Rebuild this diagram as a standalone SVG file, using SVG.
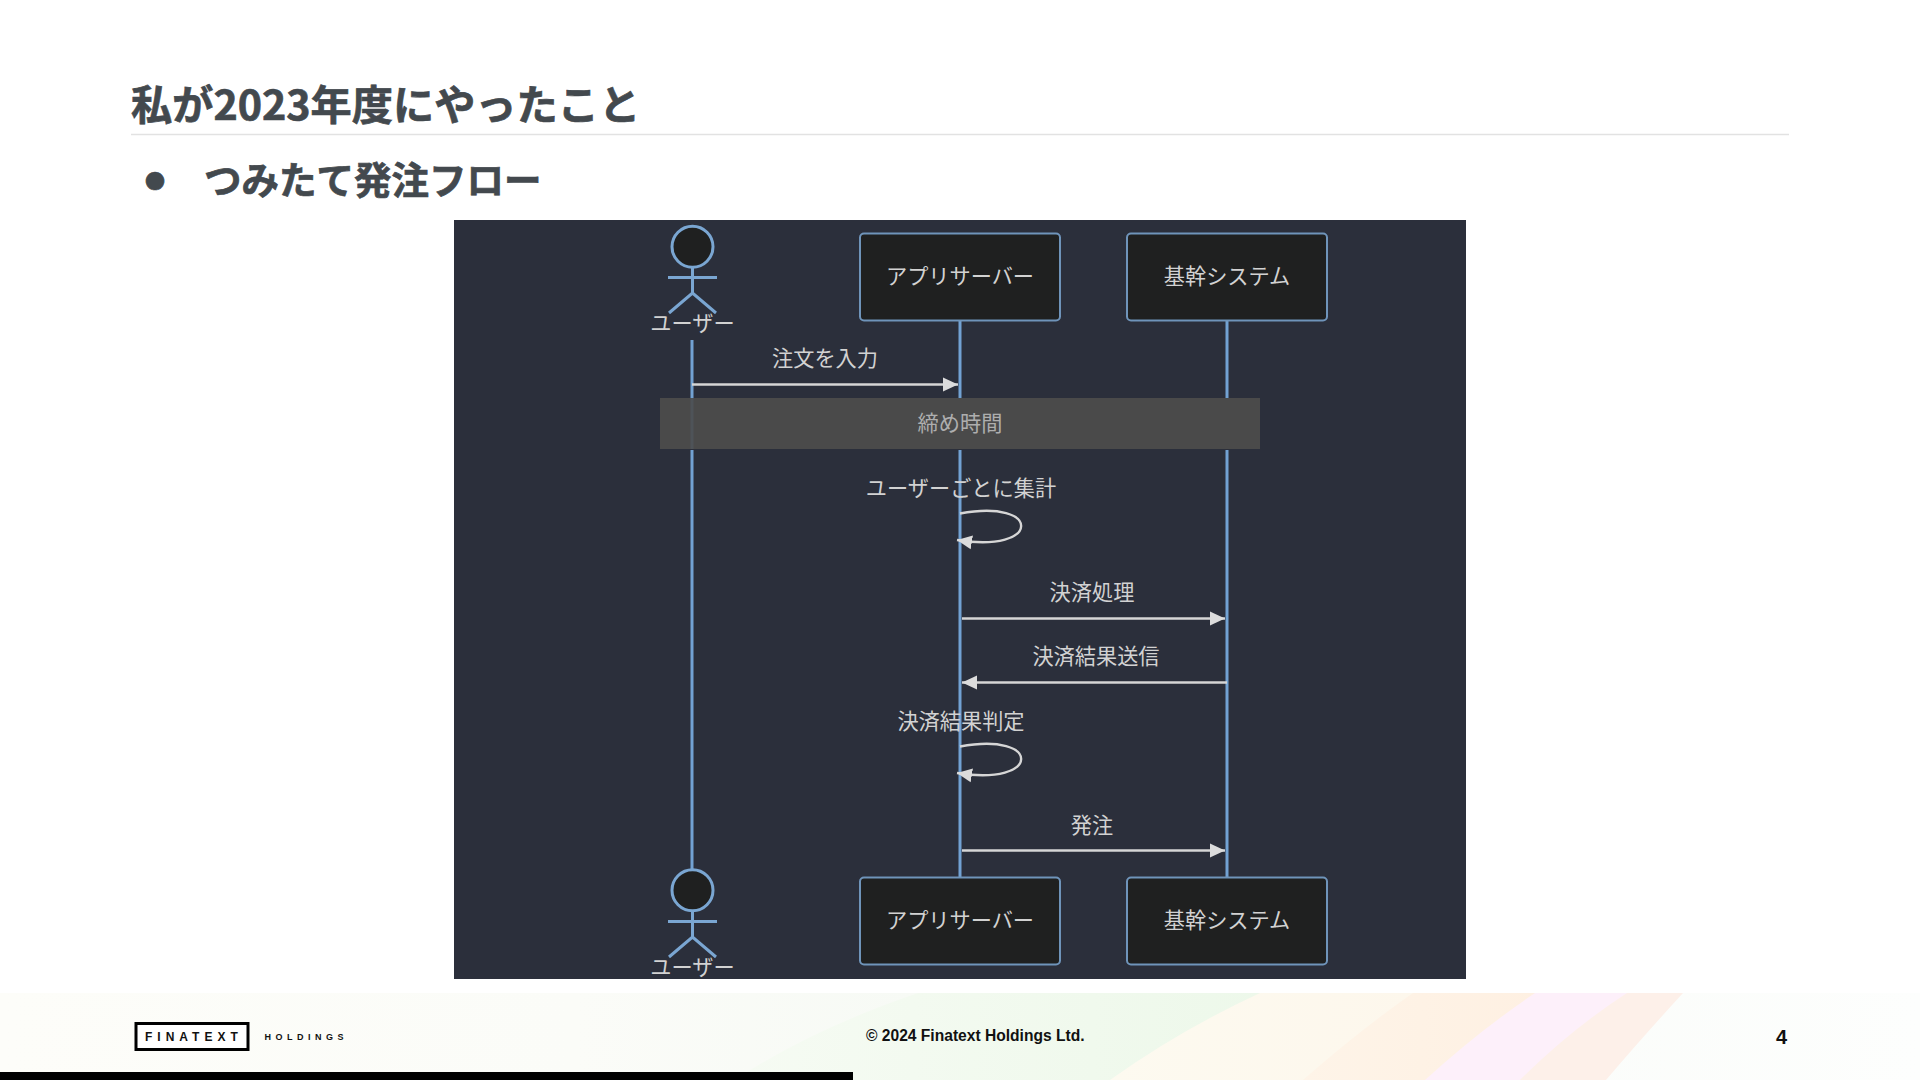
<svg xmlns="http://www.w3.org/2000/svg" width="1920" height="1080" viewBox="0 0 1920 1080">
<style>
text{font-family:"Noto Sans CJK JP","Noto Sans",sans-serif}
.h{font-weight:700;fill:#43494e;stroke:#43494e;stroke-width:.7}
.t{font-size:21.2px;fill:#d2d2d2;text-anchor:middle}
.box{fill:#1f2020;stroke:#6f94ba;stroke-width:2}
.life{stroke:#72a2d3;stroke-width:3;fill:none}
.act{stroke:#7aa6d2;stroke-width:3;fill:none}
.head{fill:#1f2020;stroke:#7aa6d2;stroke-width:3}
.msg{stroke:#d6d6d6;stroke-width:2.4;fill:none}
.foot{font-family:"Liberation Sans",Arial,sans-serif;font-weight:700;fill:#111}
</style>
<defs>
<marker id="arrow" markerUnits="userSpaceOnUse" viewBox="0 0 15 15" refX="15" refY="7.5" markerWidth="15" markerHeight="15" orient="auto"><path d="M0,0.5L15,7.5L0,14.5Z" fill="#dcdcdc"/></marker>
<linearGradient id="fbg" x1="0" x2="1" y1="0" y2="0"><stop offset="0" stop-color="#fdfdf9"/><stop offset=".3" stop-color="#fbfcf8"/><stop offset=".48" stop-color="#f7faf5"/><stop offset="1" stop-color="#fdfefd"/></linearGradient>
<linearGradient id="green" x1="0" x2="1" y1="0" y2="0"><stop offset="0" stop-color="#f6fbf3"/><stop offset="1" stop-color="#edf8ea"/></linearGradient>
<linearGradient id="cream" x1="0" x2="1" y1="0" y2="0"><stop offset="0" stop-color="#fdfaf0"/><stop offset="1" stop-color="#fdf7ec"/></linearGradient>
<linearGradient id="peach" x1="0" x2="1" y1="0" y2="0"><stop offset="0" stop-color="#fef4e8"/><stop offset="1" stop-color="#fef0e2"/></linearGradient>
</defs>
<rect width="1920" height="1080" fill="#fff"/>
<g id="footer-band">
<rect y="993" width="1920" height="87" fill="url(#fbg)"/>
<path d="M918,993L1270,993Q1190,1030 1120,1080L735,1080Q810,1030 918,993Z" fill="url(#green)"/>
<path d="M1260,993L1420,993Q1370,1030 1310,1080L1110,1080Q1180,1030 1260,993Z" fill="url(#cream)"/>
<path d="M1413,993L1540,993Q1480,1030 1430,1080L1303,1080Q1360,1030 1413,993Z" fill="url(#peach)"/>
<path d="M1535,993L1630,993Q1570,1030 1525,1080L1425,1080Q1480,1030 1535,993Z" fill="#fdf0fa"/>
<path d="M1627,993L1683,993Q1640,1040 1606,1080L1520,1080Q1570,1030 1627,993Z" fill="#fdf0e9"/>
</g>
<rect id="bar" y="1072" width="853" height="8" fill="#000"/>
<g id="heading">
<text class="h" x="131" y="120" font-size="41.2">私が2023年度にやったこと</text>
<line x1="131" y1="134.5" x2="1789" y2="134.5" stroke="#e2e2e2" stroke-width="1.5"/>
<text class="h" x="145" y="189" font-size="20">●</text>
<text class="h" x="204" y="194" font-size="37.5">つみたて発注フロー</text>
</g>
<rect id="panel" x="454" y="220" width="1012" height="759" fill="#2b2f3b"/>
<g id="connectors">
<line class="life" x1="692" y1="340" x2="692" y2="872"/>
<line class="life" x1="960" y1="320" x2="960" y2="877"/>
<line class="life" x1="1227" y1="320" x2="1227" y2="877"/>
<line class="msg" x1="692" y1="384.5" x2="958" y2="384.5" marker-end="url(#arrow)"/>
<path class="msg" d="M960,513.5C1042,498 1042,554 957,540" marker-end="url(#arrow)"/>
<line class="msg" x1="962" y1="618.5" x2="1225" y2="618.5" marker-end="url(#arrow)"/>
<line class="msg" x1="1227" y1="682.5" x2="962" y2="682.5" marker-end="url(#arrow)"/>
<path class="msg" d="M960,746.5C1042,731 1042,787 957,773" marker-end="url(#arrow)"/>
<line class="msg" x1="962" y1="850.5" x2="1225" y2="850.5" marker-end="url(#arrow)"/>
</g>
<g id="note">
<rect x="660" y="398" width="600" height="52" fill="#2b2f3b"/>
<rect x="660" y="398" width="600" height="51" fill="#4a4a4a"/>
<line x1="692" y1="398" x2="692" y2="449" stroke="#72a2d3" stroke-width="3" opacity=".1"/>
<text class="t" x="960" y="431" style="fill:#aeaeae">締め時間</text>
</g>
<g id="labels">
<text class="t" x="825" y="366">注文を入力</text>
<text class="t" x="961" y="495.5">ユーザーごとに集計</text>
<text class="t" x="1092" y="599.5">決済処理</text>
<text class="t" x="1096" y="664">決済結果送信</text>
<text class="t" x="961" y="729">決済結果判定</text>
<text class="t" x="1092" y="833">発注</text>
</g>
<g id="actor-user-top">
<circle class="head" cx="692.5" cy="246.7" r="20.5"/>
<path class="act" d="M692.5,267V293M668,277.5H717M669,313L692.5,293L716,313"/>
<text class="t" x="692.5" y="330.5">ユーザー</text>
</g>
<g id="app-top"><rect class="box" x="860" y="233.5" width="200" height="87" rx="4"/><text class="t" x="960" y="284">アプリサーバー</text></g>
<g id="sys-top"><rect class="box" x="1127" y="233.5" width="200" height="87" rx="4"/><text class="t" x="1227" y="284">基幹システム</text></g>
<g id="actor-user-bottom">
<circle class="head" cx="692.5" cy="890.3" r="20.5"/>
<path class="act" d="M692.5,911V937M668,921.5H717M669,957L692.5,937L716,957"/>
<text class="t" x="692.5" y="974.5">ユーザー</text>
</g>
<g id="app-bottom"><rect class="box" x="860" y="877.5" width="200" height="87" rx="4"/><text class="t" x="960" y="928">アプリサーバー</text></g>
<g id="sys-bottom"><rect class="box" x="1127" y="877.5" width="200" height="87" rx="4"/><text class="t" x="1227" y="928">基幹システム</text></g>
<g id="footer">
<rect x="136" y="1023.5" width="112" height="26" fill="#fff" stroke="#000" stroke-width="3"/>
<text class="foot" x="145" y="1041" font-size="12" letter-spacing="5">FINATEXT</text>
<text class="foot" x="264.5" y="1040" font-size="9" letter-spacing="4.5">HOLDINGS</text>
<text class="foot" x="866" y="1041" font-size="15.6">© 2024 Finatext Holdings Ltd.</text>
<text class="foot" x="1776" y="1043.5" font-size="20">4</text>
</g>
</svg>
